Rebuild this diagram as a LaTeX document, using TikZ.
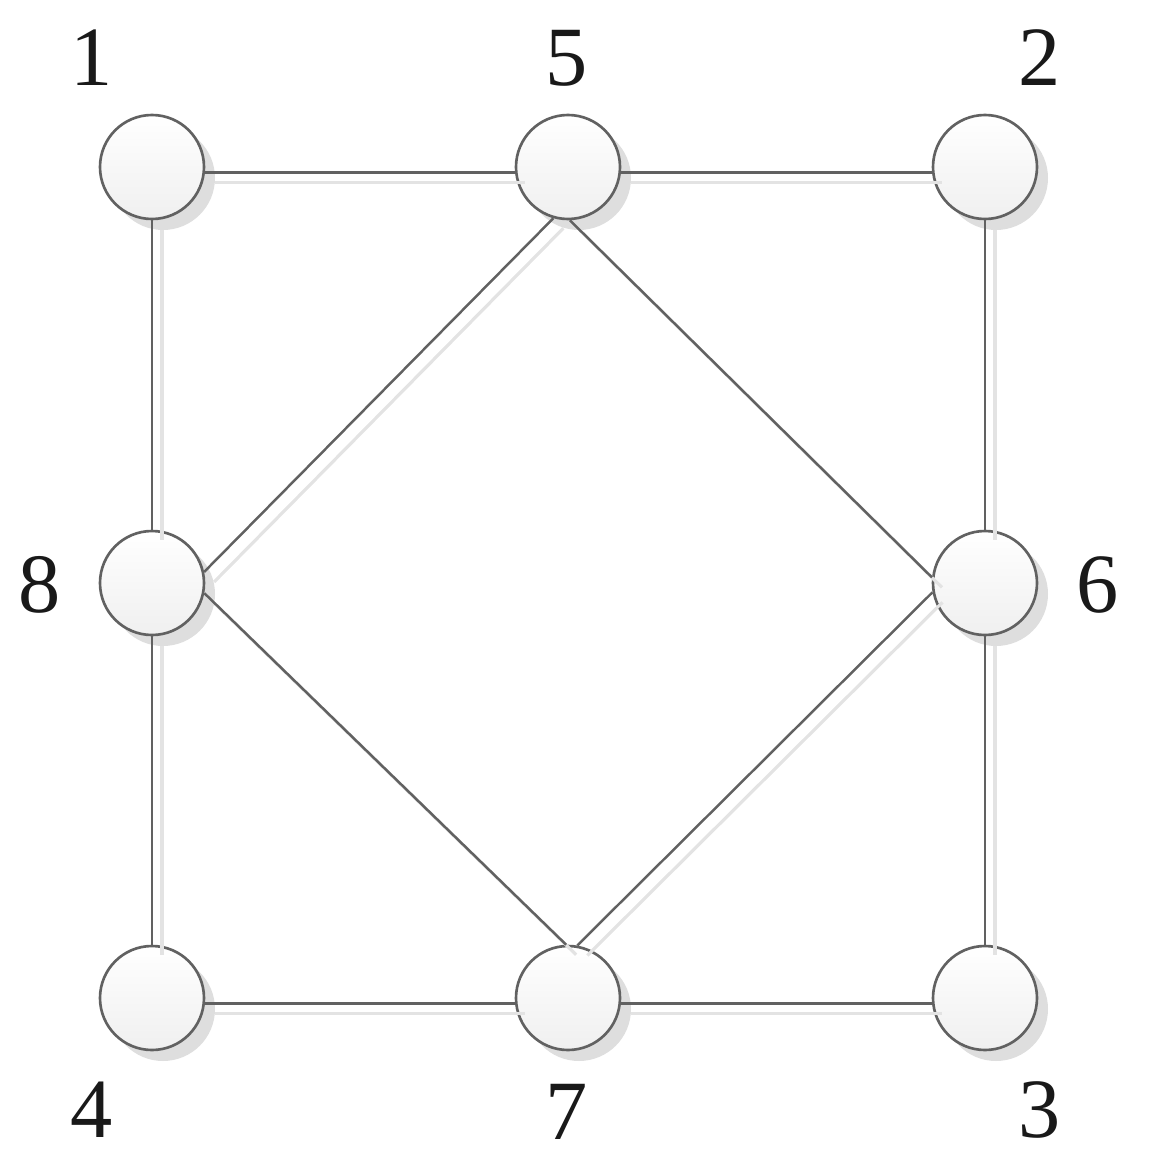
\documentclass[tikz,border=0pt]{standalone}
\usepackage{fontspec}
\setmainfont{Liberation Serif}
\usetikzlibrary{positioning, shadows}

\begin{document}
\begin{tikzpicture}[
    vertex/.style={circle, draw=black!62, line width=0.75pt, minimum size=1.04cm, inner sep=0pt,
        top color=white, bottom color=black!6,
        drop shadow={shadow xshift=1.1mm, shadow yshift=-1.1mm, fill=black!13, opacity=1}},
    edge/.style={draw=black!62, line width=0.7pt},
    edgeshade/.style={draw=black!11, line width=0.9pt},
    num/.style={font=\fontsize{24}{28}\selectfont, text=black!90, inner sep=0pt}
]
\useasboundingbox (0,0) rectangle (11.56,-11.69);

% Vertices
\node[vertex] (n1) at (1.52,-1.67) {};
\node[vertex] (n5) at (5.68,-1.67) {};
\node[vertex] (n2) at (9.85,-1.67) {};
\node[vertex] (n8) at (1.52,-5.83) {};
\node[vertex] (n6) at (9.85,-5.83) {};
\node[vertex] (n4) at (1.52,-9.98) {};
\node[vertex] (n7) at (5.68,-9.98) {};
\node[vertex] (n3) at (9.85,-9.98) {};

% Numbers
\node[num] (l1) at ([shift={(-0.6,1.09)}]n1) {1};
\node[num] (l5) at ([shift={(-0.01,1.09)}]n5) {5};
\node[num] (l2) at ([shift={(0.55,1.09)}]n2) {2};
\node[num] (l8) at ([shift={(-1.12,-0.02)}]n8) {8};
\node[num] (l6) at ([shift={(1.13,-0.02)}]n6) {6};
\node[num] (l4) at ([shift={(-0.6,-1.12)}]n4) {4};
\node[num] (l7) at ([shift={(-0.01,-1.14)}]n7) {7};
\node[num] (l3) at ([shift={(0.55,-1.12)}]n3) {3};

% Edges, with their light copy
\foreach \a/\b in {n1.-6/n5.186, n5.-6/n2.186, n4.-6/n7.186, n7.-6/n3.186,
                   n1/n8, n2/n6, n8/n4, n6/n3,
                   n5.254/n8.12, n5.272/n6.174, n8.349/n7.92, n7.80/n6.190} {
    \draw[edgeshade, transform canvas={xshift=1mm, yshift=-1mm}] (\a) -- (\b);
    \draw[edge] (\a) -- (\b);
}

\end{tikzpicture}
\end{document}
